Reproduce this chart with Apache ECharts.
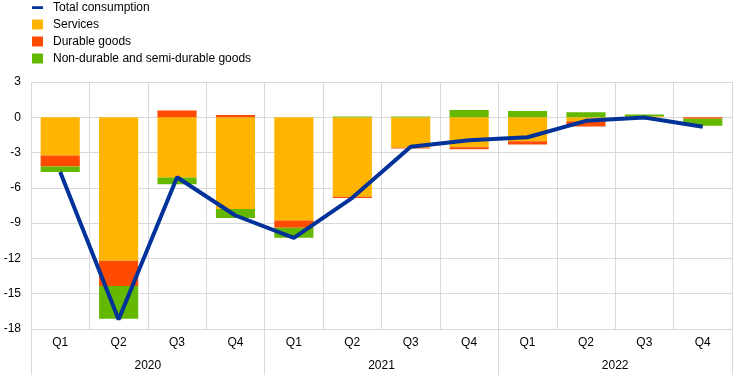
<!DOCTYPE html>
<html>
<head>
<meta charset="utf-8">
<script src="https://cdn.jsdelivr.net/npm/echarts@6/dist/echarts.min.js"></script>
<style>
html,body{margin:0;padding:0;background:#fff;}
#c{width:744px;height:378px;}
</style>
</head>
<body>
<div id="c"></div>
<script>
var quarters = ['Q1','Q2','Q3','Q4','Q1','Q2','Q3','Q4','Q1','Q2','Q3','Q4'];
var years = ['2020','2021','2022'];
var services   = [-3.25, -12.2, -5.12, -7.8, -8.77, -6.76, -2.6, -2.55, -2.04, -0.34, 0.08, 0];
var durable    = [-0.93, -2.15, 0.57, 0.2, -0.62, -0.1, -0.05, -0.17, -0.28, -0.45, 0, -0.13];
var nondurable = [-0.47, -2.77, -0.57, -0.77, -0.85, 0.06, 0.06, 0.63, 0.54, 0.43, 0.15, -0.6];
var total      = [-4.65, -17.2, -5.1, -8.35, -10.25, -6.85, -2.5, -1.95, -1.7, -0.3, -0.02, -0.8];
var yTicks = {min: -18, max: 3, interval: 3};

var FONT = 'Liberation Sans, Arial, sans-serif';
var GRID = '#d9d9d9';
var chart = echarts.init(document.getElementById('c'), null, {renderer: 'canvas'});
chart.setOption({
  animation: false,
  backgroundColor: '#fff',
  legend: {
    orient: 'vertical',
    left: 32,
    top: -1,
    padding: 0,
    itemWidth: 11,
    itemHeight: 10,
    itemGap: 0,
    textStyle: {fontFamily: FONT, fontSize: 12, color: '#000', lineHeight: 17, padding: [0,0,0,5]},
    data: [
      {name: 'Total consumption', icon: 'path://M0,3.5h13v3.2h-13z M0,0h0.01v10h-0.01z'},
      {name: 'Services', icon: 'rect'},
      {name: 'Durable goods', icon: 'rect'},
      {name: 'Non-durable and semi-durable goods', icon: 'rect'}
    ]
  },
  grid: {left: 31, right: 12, top: 82, bottom: 49, containLabel: false},
  xAxis: [
    {
      type: 'category',
      data: quarters,
      position: 'bottom',
      axisLine: {show: true, lineStyle: {color: GRID}},
      axisTick: {show: true, interval: 0, length: 23, lineStyle: {color: GRID}},
      splitLine: {show: true, interval: 0, lineStyle: {color: GRID}},
      axisLabel: {interval: 0, margin: 8, fontFamily: FONT, fontSize: 12, color: '#000'}
    },
    {
      type: 'category',
      data: years,
      position: 'bottom',
      axisLine: {show: false},
      axisTick: {show: true, interval: 0, length: 46, lineStyle: {color: GRID}},
      splitLine: {show: false},
      axisLabel: {interval: 0, margin: 31, fontFamily: FONT, fontSize: 12, color: '#000'}
    }
  ],
  yAxis: {
    type: 'value',
    min: yTicks.min,
    max: yTicks.max,
    interval: yTicks.interval,
    axisLine: {show: false},
    axisTick: {show: false},
    splitLine: {show: true, lineStyle: {color: GRID}},
    axisLabel: {margin: 10, fontFamily: FONT, fontSize: 12, color: '#000'}
  },
  series: [
    {name: 'Services', type: 'bar', stack: 's', data: services, barCategoryGap: '33%', itemStyle: {color: '#FFB400'}},
    {name: 'Durable goods', type: 'bar', stack: 's', data: durable, itemStyle: {color: '#FF4B00'}},
    {name: 'Non-durable and semi-durable goods', type: 'bar', stack: 's', data: nondurable, itemStyle: {color: '#65B800'}},
    {name: 'Total consumption', type: 'line', data: total, symbol: 'none', z: 5,
     lineStyle: {color: '#003299', width: 4}, itemStyle: {color: '#003299'}}
  ]
});
</script>
</body>
</html>
